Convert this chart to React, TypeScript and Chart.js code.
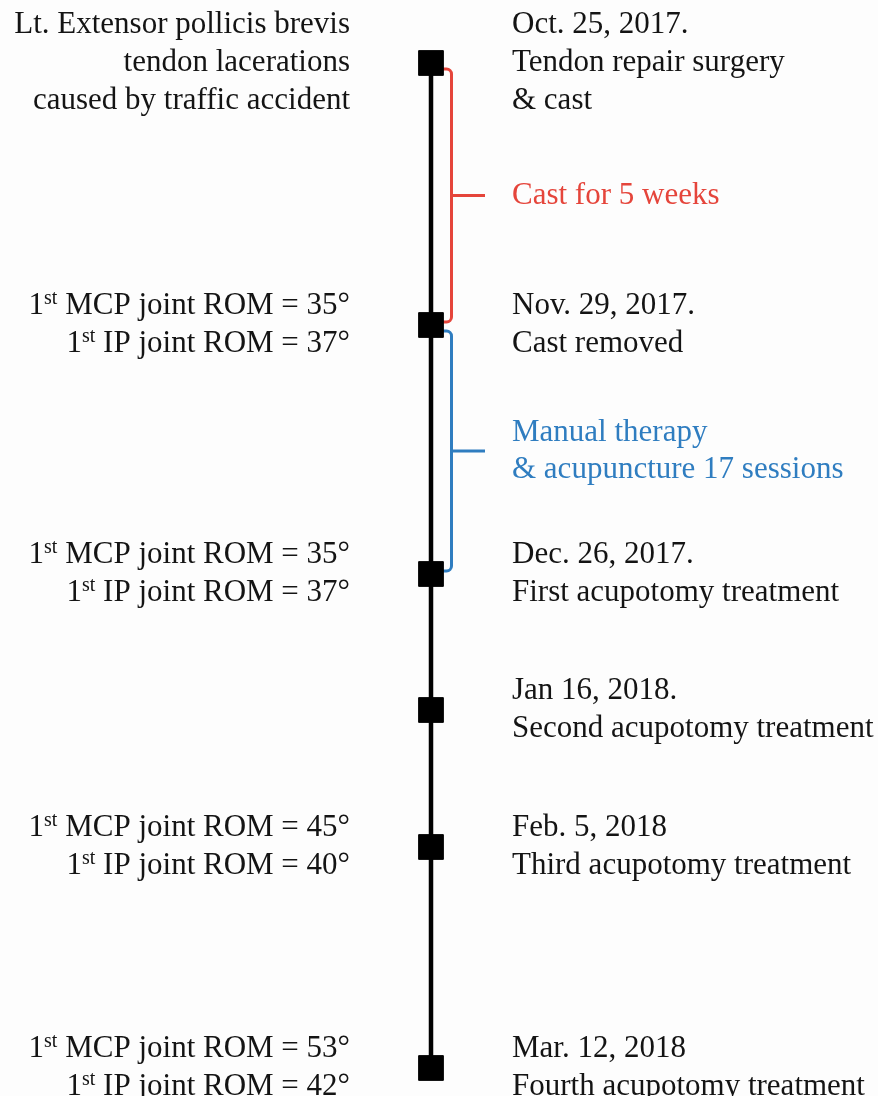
import React, { useEffect, useRef } from "react";
import { Chart, registerables } from "chart.js";

Chart.register(...registerables);

// ---- data ----
// event positions along the timeline (timeline units, 0 = top, 109.6 = bottom)
const eventPositions = [6.3, 32.5, 57.4, 71.0, 84.7, 106.8];
const eventDates = ["Oct. 25, 2017.", "Nov. 29, 2017.", "Dec. 26, 2017.", "Jan 16, 2018.", "Feb. 5, 2018", "Mar. 12, 2018"];
const eventDescriptions = [
  ["Tendon repair surgery", "& cast"],
  ["Cast removed"],
  ["First acupotomy treatment"],
  ["Second acupotomy treatment"],
  ["Third acupotomy treatment"],
  ["Fourth acupotomy treatment"],
];
const injuryLines = ["Lt. Extensor pollicis brevis", "tendon lacerations", "caused by traffic accident"];
const mcpRom: (number | null)[] = [null, 35, 35, null, 45, 53];
const ipRom: (number | null)[] = [null, 37, 37, null, 40, 42];

const bracketFrom = [0, 1];
const bracketTo = [1, 2];
const bracketLabels = [["Cast for 5 weeks"], ["Manual therapy", "& acupuncture 17 sessions"]];
const bracketColors = ["#e5453b", "#2f7dc0"];

const FONT_FAMILY = '"Liberation Serif", "Times New Roman", serif';
const MAIN_FONT = `31px ${FONT_FAMILY}`;
const SUP_FONT = `20px ${FONT_FAMILY}`;
const TEXT_COLOR = "#141414";
const LINE_GAP = 38;

export default function App() {
  const canvasRef = useRef<HTMLCanvasElement | null>(null);

  useEffect(() => {
    const canvas = canvasRef.current;
    if (!canvas) return;

    const annotationPlugin = {
      id: "timelineAnnotations",
      beforeDraw(chart: any) {
        const { ctx, width, height } = chart;
        ctx.save();
        ctx.fillStyle = "#fdfdfd";
        ctx.fillRect(0, 0, width, height);
        ctx.restore();
      },
      beforeDatasetsDraw(chart: any) {
        const { ctx } = chart;
        const xs = chart.scales.x;
        const ys = chart.scales.y;
        ctx.save();
        bracketFrom.forEach((f, i) => {
          const t = bracketTo[i];
          const yTop = ys.getPixelForValue(eventPositions[f]) + 6;
          const yBot = ys.getPixelForValue(eventPositions[t]) - 3;
          const yMid = (yTop + yBot) / 2;
          const xStart = xs.getPixelForValue(12);
          const xV = xs.getPixelForValue(20.5);
          const xTick = xs.getPixelForValue(54);
          const r = 5;
          ctx.strokeStyle = bracketColors[i];
          ctx.lineWidth = 3;
          ctx.beginPath();
          ctx.moveTo(xStart, yTop);
          ctx.arcTo(xV, yTop, xV, yBot, r);
          ctx.arcTo(xV, yBot, xStart, yBot, r);
          ctx.lineTo(xStart, yBot);
          ctx.moveTo(xV, yMid);
          ctx.lineTo(xTick, yMid);
          ctx.stroke();

          // label
          ctx.fillStyle = bracketColors[i];
          ctx.font = MAIN_FONT;
          ctx.textAlign = "left";
          ctx.textBaseline = "alphabetic";
          const lines = bracketLabels[i];
          const lx = xs.getPixelForValue(81);
          lines.forEach((ln, k) => {
            const by = yMid + 8 + (k - (lines.length - 1) / 2) * 37;
            ctx.fillText(ln, lx, by);
          });
        });
        ctx.restore();
      },
      afterDatasetsDraw(chart: any) {
        const { ctx } = chart;
        const xs = chart.scales.x;
        const ys = chart.scales.y;
        ctx.save();
        ctx.fillStyle = TEXT_COLOR;
        ctx.textBaseline = "alphabetic";
        const rightX = xs.getPixelForValue(81);
        const leftX = xs.getPixelForValue(-81);

        eventPositions.forEach((p, i) => {
          const cy = ys.getPixelForValue(p);
          // right side
          const rLines = [eventDates[i], ...eventDescriptions[i]];
          ctx.font = MAIN_FONT;
          ctx.textAlign = "left";
          rLines.forEach((ln, k) => {
            const by = cy + 8 + (k - (rLines.length - 1) / 2) * LINE_GAP;
            ctx.fillText(ln, rightX, by);
          });

          // left side
          let lLines: { parts: { t: string; sup: boolean }[] }[] = [];
          if (i === 0) {
            lLines = injuryLines.map((t) => ({ parts: [{ t, sup: false }] }));
          } else if (mcpRom[i] != null) {
            lLines = [
              { parts: [{ t: "1", sup: false }, { t: "st", sup: true }, { t: ` MCP joint ROM = ${mcpRom[i]}°`, sup: false }] },
              { parts: [{ t: "1", sup: false }, { t: "st", sup: true }, { t: ` IP joint ROM = ${ipRom[i]}°`, sup: false }] },
            ];
          }
          lLines.forEach((line, k) => {
            const by = cy + 8 + (k - (lLines.length - 1) / 2) * LINE_GAP;
            let total = 0;
            const widths = line.parts.map((pt) => {
              ctx.font = pt.sup ? SUP_FONT : MAIN_FONT;
              const w = ctx.measureText(pt.t).width;
              total += w;
              return w;
            });
            let x = leftX - total;
            ctx.textAlign = "left";
            line.parts.forEach((pt, j) => {
              ctx.font = pt.sup ? SUP_FONT : MAIN_FONT;
              ctx.fillText(pt.t, x, pt.sup ? by - 10 : by);
              x += widths[j];
            });
          });
        });
        ctx.restore();
      },
    };

    const chart = new Chart(canvas, {
      type: "scatter",
      data: {
        datasets: [
          {
            label: "timeline",
            data: [
              { x: 0, y: eventPositions[0] },
              { x: 0, y: eventPositions[eventPositions.length - 1] },
            ],
            showLine: true,
            borderColor: "#000",
            borderWidth: 4.5,
            pointRadius: 0,
          },
          {
            label: "events",
            data: eventPositions.map((y) => ({ x: 0, y })),
            showLine: false,
            pointStyle: "rect",
            pointRadius: 17.5,
            backgroundColor: "#000",
            borderColor: "#000",
            borderWidth: 1,
          },
        ],
      },
      options: {
        animation: false,
        responsive: false,
        devicePixelRatio: 1,
        layout: { padding: 0, autoPadding: false },
        scales: {
          x: { type: "linear", min: -431, max: 447, display: false },
          y: { type: "linear", min: 0, max: 109.6, reverse: true, display: false },
        },
        plugins: { legend: { display: false }, tooltip: { enabled: false } },
        events: [],
      },
      plugins: [annotationPlugin],
    } as any);

    return () => chart.destroy();
  }, []);

  return (
    <div style={{ position: "absolute", left: 0, top: 0, width: 878, height: 1096 }}>
      <canvas ref={canvasRef} width={878} height={1096} style={{ display: "block" }} />
    </div>
  );
}
